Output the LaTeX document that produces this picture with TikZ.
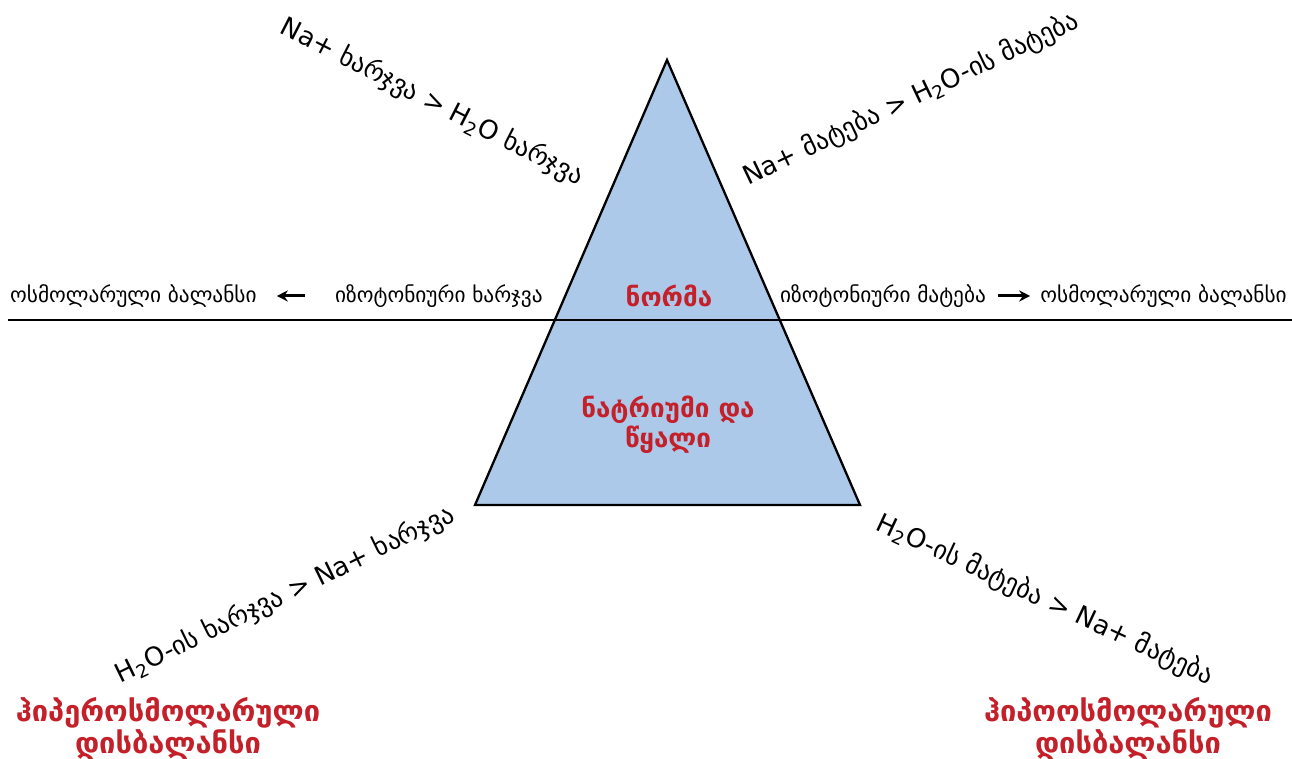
\documentclass[tikz,border=0pt]{standalone}
\usepackage{fontspec}
\setmainfont{DejaVu Sans}
\usetikzlibrary{arrows.meta}
\definecolor{triblue}{RGB}{173,201,233}
\definecolor{labred}{RGB}{196,32,42}
\tikzset{
  lbl/.style={font=\fontsize{21.3}{24}\selectfont, inner sep=0pt, text=black},
  rot/.style={font=\fontsize{26}{30}\selectfont, inner sep=0pt, text=black},
  redlbl/.style={font=\bfseries\fontsize{26}{30}\selectfont, inner sep=0pt, text=labred, align=center},
  redbig/.style={font=\bfseries\fontsize{29}{32}\selectfont, inner sep=0pt, text=labred, align=center},
  arr/.style={-{Stealth[length=11pt,width=11pt]}, line width=3pt},
}
\begin{document}
\begin{tikzpicture}[x=1pt,y=1pt]
\useasboundingbox (0,0) rectangle (1292,759);
% triangle
\coordinate (apex) at (667,699);
\coordinate (bl) at (475,254);
\coordinate (br) at (860,254);
\draw[fill=triblue, line width=2.3pt, line join=miter] (apex) -- (bl) -- (br) -- cycle;
% horizontal line
\coordinate (hl) at (8,439);
\coordinate (hr) at (1292,439);
\draw[line width=2.5pt] (hl) -- (hr);
% horizontal labels
\node[lbl, anchor=west] (osmL) at (10,463) {ოსმოლარული ბალანსი};
\node[lbl, anchor=west] (isoL) at (335,463) {იზოტონიური ხარჯვა};
\node[lbl, anchor=west] (isoR) at (780,463) {იზოტონიური მატება};
\node[lbl, anchor=east] (osmR) at (1287,463) {ოსმოლარული ბალანსი};
\draw[arr, shorten <=30pt, shorten >=20pt] (isoL.west) -- (osmL.east);
\draw[arr, shorten <=12pt, shorten >=10pt] (isoR.east) -- (osmR.west);
% red labels
\node[redlbl] (norma) at (669,463) {ნორმა};
\node[redlbl] (natr) at (668,334) {ნატრიუმი და\\წყალი};
\node[redbig] (hyper) at (168,30) {ჰიპეროსმოლარული\\დისბალანსი};
\node[redbig] (hypo) at (1128,30) {ჰიპოოსმოლარული\\დისბალანსი};
% rotated labels
\node[rot, rotate=-27] (tl) at (432,657) {Na+ ხარჯვა > H\textsubscript{2}O ხარჯვა};
\node[rot, rotate=25.5] (tr) at (911,660) {Na+ მატება > H\textsubscript{2}O-ის მატება};
\node[rot, rotate=26] (bleft) at (285,164) {H\textsubscript{2}O-ის ხარჯვა > Na+ ხარჯვა};
\node[rot, rotate=-25] (bright) at (1045,159) {H\textsubscript{2}O-ის მატება > Na+ მატება};
\end{tikzpicture}
\end{document}
